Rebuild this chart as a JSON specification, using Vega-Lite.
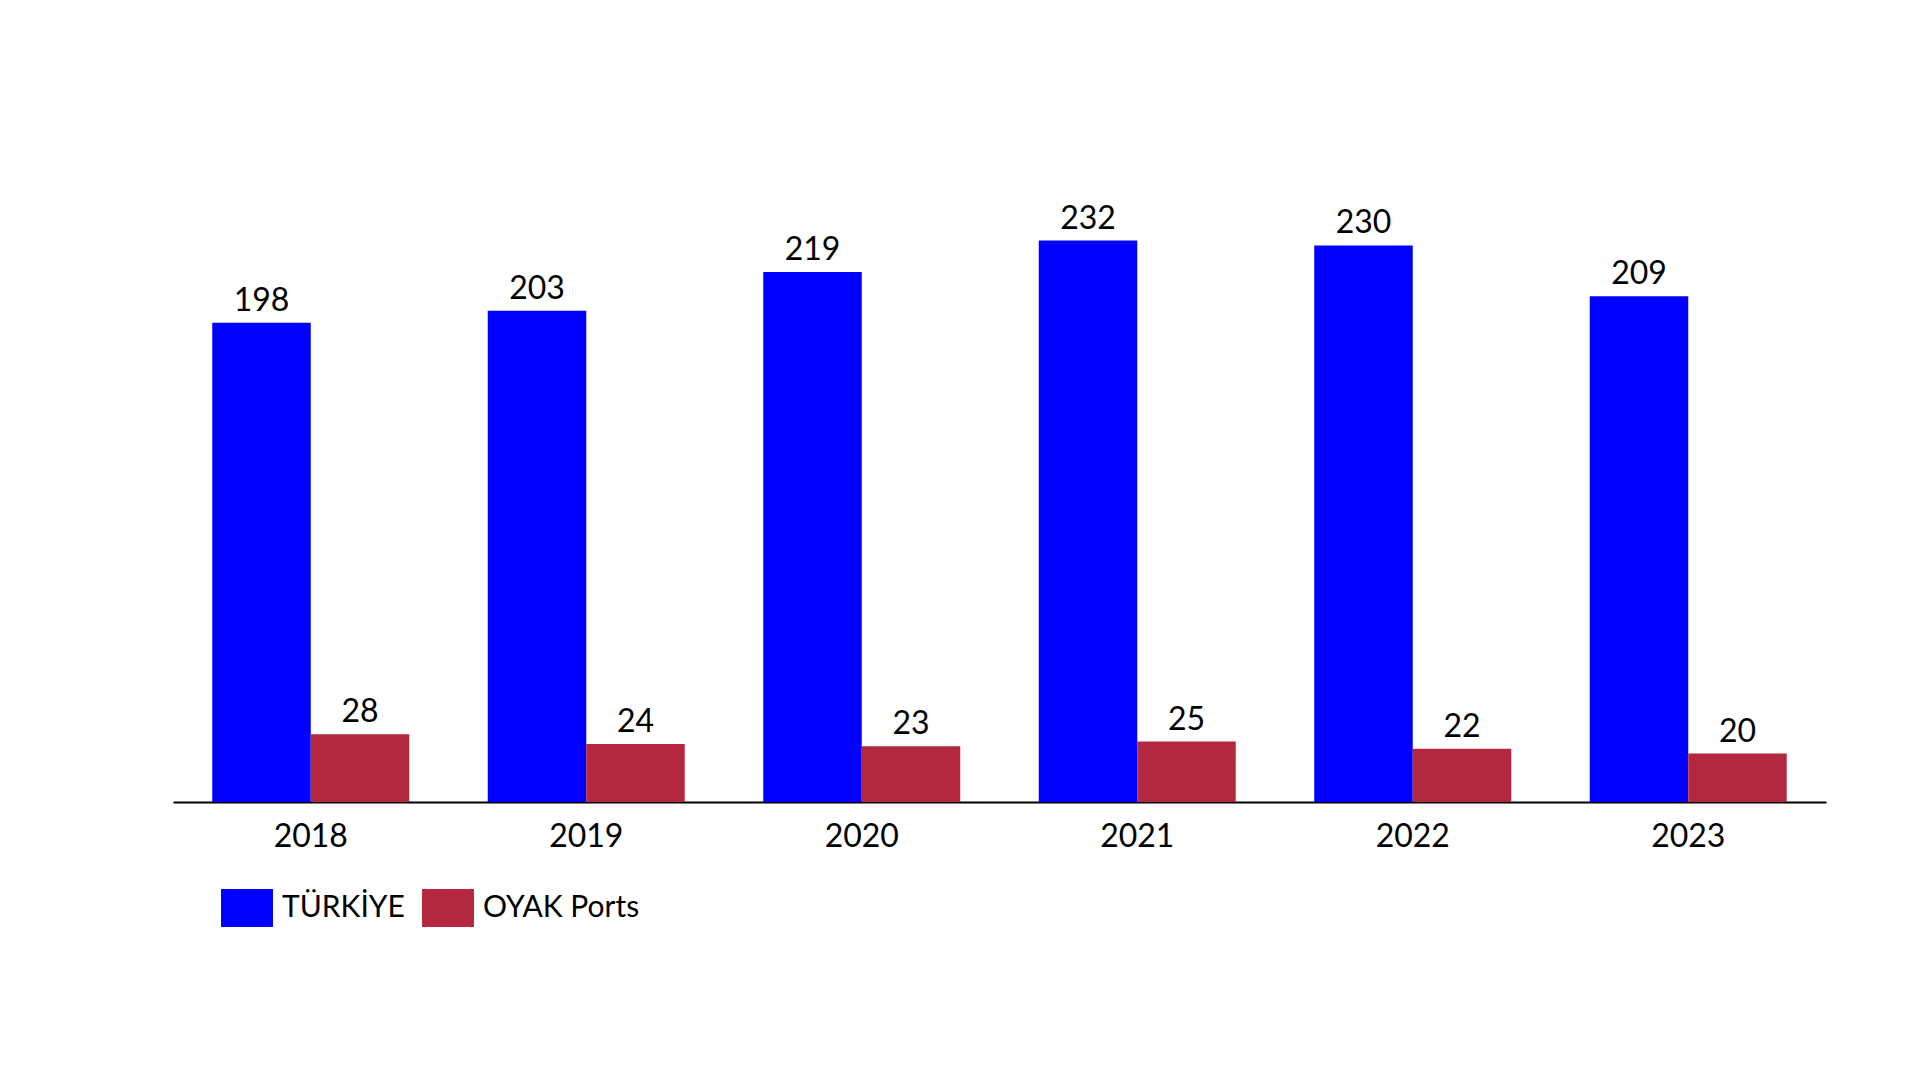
{
  "$schema": "https://vega.github.io/schema/vega-lite/v6.json",
  "width": 1653,
  "height": 605,
  "autosize": {"type": "none"},
  "padding": {"left": 173, "top": 197, "right": 94, "bottom": 278},
  "background": "white",
  "config": {"view": {"stroke": null}, "font": "Lato"},
  "data": {
    "values": [
      {"year": "2018", "series": "TÜRKİYE", "value": 198},
      {"year": "2018", "series": "OYAK Ports", "value": 28},
      {"year": "2019", "series": "TÜRKİYE", "value": 203},
      {"year": "2019", "series": "OYAK Ports", "value": 24},
      {"year": "2020", "series": "TÜRKİYE", "value": 219},
      {"year": "2020", "series": "OYAK Ports", "value": 23},
      {"year": "2021", "series": "TÜRKİYE", "value": 232},
      {"year": "2021", "series": "OYAK Ports", "value": 25},
      {"year": "2022", "series": "TÜRKİYE", "value": 230},
      {"year": "2022", "series": "OYAK Ports", "value": 22},
      {"year": "2023", "series": "TÜRKİYE", "value": 209},
      {"year": "2023", "series": "OYAK Ports", "value": 20}
    ]
  },
  "encoding": {
    "x": {
      "field": "year",
      "type": "nominal",
      "scale": {"paddingInner": 0.285, "paddingOuter": 0.1425},
      "axis": {
        "title": null,
        "labelAngle": 0,
        "ticks": false,
        "tickSize": 0,
        "labelPadding": 44,
        "labelBaseline": "alphabetic",
        "labelFontSize": 32,
        "labelColor": "black",
        "labelFont": "Lato",
        "domainColor": "black",
        "domainWidth": 2,
        "grid": false
      }
    },
    "xOffset": {
      "field": "series",
      "type": "nominal",
      "sort": ["TÜRKİYE", "OYAK Ports"],
      "scale": {"paddingInner": 0, "paddingOuter": 0}
    },
    "y": {
      "field": "value",
      "type": "quantitative",
      "scale": {"domain": [0, 250]},
      "axis": null
    }
  },
  "layer": [
    {
      "mark": {"type": "bar"},
      "encoding": {
        "color": {
          "field": "series",
          "type": "nominal",
          "sort": ["TÜRKİYE", "OYAK Ports"],
          "scale": {"domain": ["TÜRKİYE", "OYAK Ports"], "range": ["#0000FF", "#B3283F"]},
          "legend": {
            "title": null,
            "orient": "none",
            "direction": "horizontal",
            "legendX": 55,
            "legendY": 692,
            "padding": 0,
            "symbolType": "M-1.368,-1H1.368V1H-1.368Z",
            "symbolSize": 1444,
            "symbolStrokeWidth": 0,
            "symbolOpacity": 1,
            "labelFontSize": 30,
            "labelFont": "Lato",
            "labelColor": "black",
            "labelOffset": 16,
            "columnPadding": 17,
            "labelLimit": 400
          }
        }
      }
    },
    {
      "mark": {"type": "text", "dy": -12, "baseline": "alphabetic", "fontSize": 32, "color": "black", "font": "Lato"},
      "encoding": {"text": {"field": "value", "type": "quantitative"}}
    }
  ]
}
